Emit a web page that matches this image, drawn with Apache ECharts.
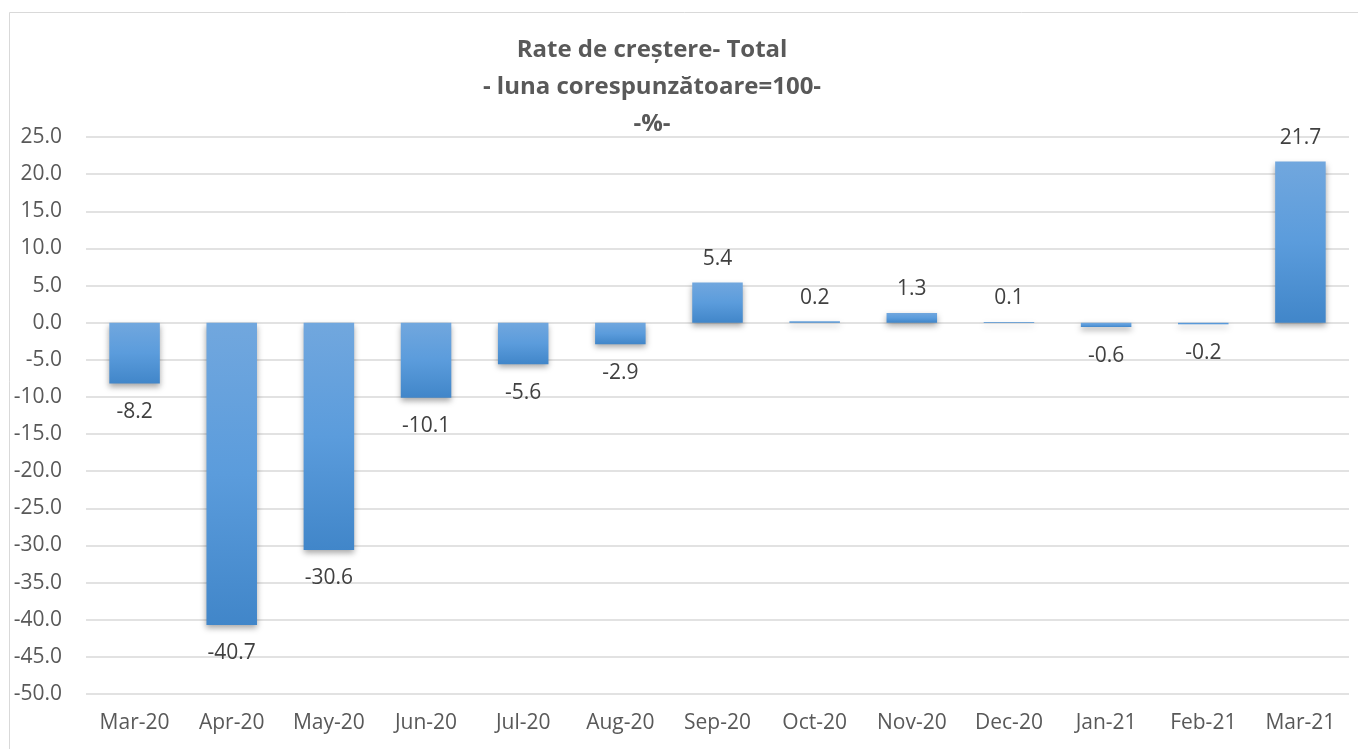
<!DOCTYPE html>
<html>
<head>
<meta charset="utf-8">
<script src="https://cdn.jsdelivr.net/npm/echarts@6/dist/echarts.min.js"></script>
<style>
html,body{margin:0;padding:0;background:#fff;}
#c{width:1358px;height:749px;}
</style>
</head>
<body>
<div id="c"></div>
<script>
const categories = ['Mar-20','Apr-20','May-20','Jun-20','Jul-20','Aug-20','Sep-20','Oct-20','Nov-20','Dec-20','Jan-21','Feb-21','Mar-21'];
const values = [-8.2, -40.7, -30.6, -10.1, -5.6, -2.9, 5.4, 0.2, 1.3, 0.1, -0.6, -0.2, 21.7];
const titleLines = ['Rate de creștere- Total', '- luna corespunzătoare=100-', '-%-'];

const FONT = '"Open Sans", "Liberation Sans", sans-serif';
const chart = echarts.init(document.getElementById('c'), null, {renderer: 'canvas'});

const barColor = new echarts.graphic.LinearGradient(0, 0, 0, 1, [
  {offset: 0, color: '#71a7de'},
  {offset: 0.5, color: '#5b9cdc'},
  {offset: 1, color: '#4186c9'}
]);

chart.setOption({
  backgroundColor: '#fff',
  animation: false,
  title: {
    text: titleLines.join('\n'),
    left: 647,
    textAlign: 'center',
    top: 27,
    textStyle: {
      fontFamily: FONT,
      fontWeight: 'bold',
      fontSize: 24,
      lineHeight: 37,
      color: '#595959'
    }
  },
  graphic: [{
    type: 'rect',
    shape: {x: 9.5, y: 12.5, width: 1400, height: 800},
    style: {fill: 'none', stroke: '#d9d9d9', lineWidth: 1},
    silent: true
  }],
  grid: {left: 86, right: 9, top: 137, bottom: 55, containLabel: false},
  xAxis: {
    type: 'category',
    data: categories,
    position: 'bottom',
    axisLine: {show: false},
    axisTick: {show: false},
    axisLabel: {fontFamily: FONT, fontSize: 21, color: '#595959', margin: 19}
  },
  yAxis: {
    type: 'value',
    min: -50,
    max: 25,
    interval: 5,
    axisLine: {show: false},
    axisTick: {show: false},
    splitLine: {lineStyle: {color: '#d9d9d9', width: 1.5}},
    axisLabel: {
      fontFamily: FONT, fontSize: 21, color: '#595959', margin: 24,
      formatter: v => v.toFixed(1)
    }
  },
  series: [{
    type: 'bar',
    barWidth: '52%',
    data: values.map(v => ({
      value: v,
      label: {
        show: true,
        position: v < 0 ? 'bottom' : 'top',
        distance: v < 0 ? 18 : 13
      }
    })),
    itemStyle: {
      color: barColor,
      shadowColor: 'rgba(0,0,0,0.35)',
      shadowBlur: 6,
      shadowOffsetY: 3
    },
    label: {
      fontFamily: FONT, fontSize: 21, color: '#404040',
      formatter: p => p.value.toFixed(1)
    }
  }]
});
</script>
</body>
</html>
